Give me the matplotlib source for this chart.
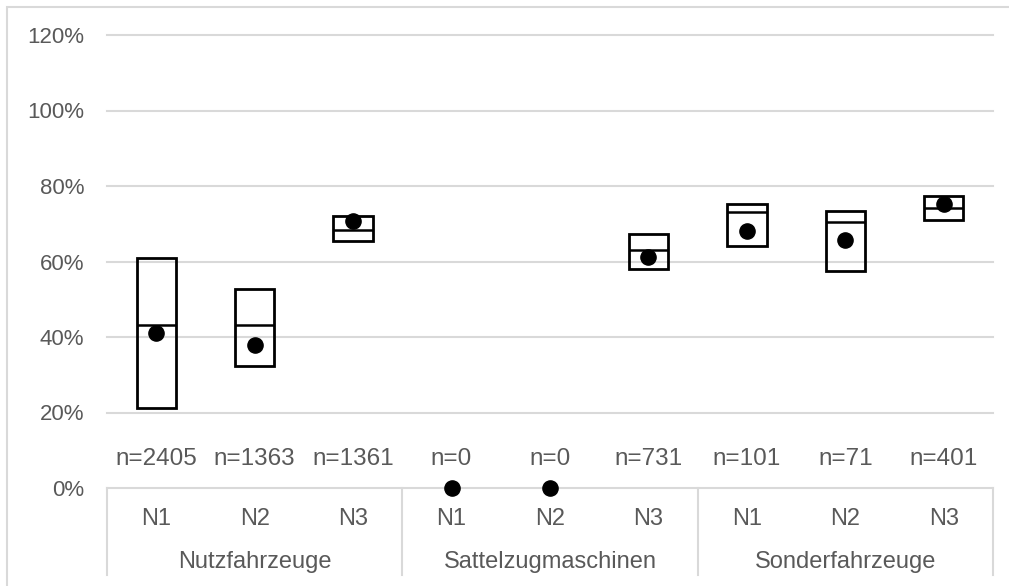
import numpy as np
import matplotlib.pyplot as plt
from matplotlib.patches import Rectangle
from matplotlib.transforms import blended_transform_factory

plt.rcParams['font.family'] = ['Liberation Sans', 'DejaVu Sans']

# Data
groups = ["Nutzfahrzeuge", "Sattelzugmaschinen", "Sonderfahrzeuge"]
classes = ["N1", "N2", "N3", "N1", "N2", "N3", "N1", "N2", "N3"]
n_counts = ["n=2405", "n=1363", "n=1361", "n=0", "n=0", "n=731", "n=101", "n=71", "n=401"]
box_low = [0.213, 0.322, 0.653, np.nan, np.nan, 0.581, 0.642, 0.576, 0.710]
box_high = [0.610, 0.528, 0.721, np.nan, np.nan, 0.674, 0.753, 0.734, 0.773]
median = [0.432, 0.432, 0.683, np.nan, np.nan, 0.631, 0.730, 0.705, 0.742]
mean = [0.411, 0.379, 0.706, 0.0, 0.0, 0.611, 0.680, 0.656, 0.751]

W, H = 1009, 586
AX_TOP, AX_BOT = 35, 488
fig = plt.figure(figsize=(W / 100, H / 100), dpi=100)
ax = fig.add_axes([107 / W, 1 - AX_BOT / H, (993 - 107) / W, (AX_BOT - AX_TOP) / H])


def below(ypix):
    """Axes-fraction y for a pixel row beneath the plot area."""
    return -(ypix - AX_BOT) / (AX_BOT - AX_TOP)


grid_c = "#d9d9d9"
text_c = "#595959"
x = np.arange(len(classes))

# Gridlines
ax.set_ylim(0, 1.2)
ax.set_xlim(-0.5, len(classes) - 0.5)
yt = np.arange(0, 1.21, 0.2)
for y in yt:
    ax.axhline(y, color=grid_c, lw=1.5, zorder=0, clip_on=False)
ax.set_yticks(yt)
ax.set_yticklabels([f"{int(round(v * 100))}%" for v in yt], color=text_c, fontsize=16)
ax.tick_params(axis="y", length=0, pad=16.5)
ax.set_xticks([])
for s in ax.spines.values():
    s.set_visible(False)

# Boxes (low..high) with median line
lo = np.array(box_low)
hi = np.array(box_high)
has_box = ~np.isnan(lo)
bw = 0.4
ax.bar(x[has_box], (hi - lo)[has_box], bottom=lo[has_box], width=bw,
       fill=False, edgecolor="black", linewidth=2, zorder=3)
med = np.array(median)
ax.hlines(med[has_box], x[has_box] - bw / 2, x[has_box] + bw / 2,
          color="black", linewidth=1.8, zorder=3)

# Mean markers
ax.scatter(x, mean, s=120, color="black", zorder=4, clip_on=False)

tr = blended_transform_factory(ax.transData, ax.transAxes)

# Sample sizes
for xi, t in zip(x, n_counts):
    ax.text(xi, below(465), t, ha="center", va="baseline", fontsize=17.5,
            color=text_c, transform=tr)

# Two-level category axis
for xs in [-0.5, 2.5, 5.5, 8.5]:
    ax.plot([xs, xs], [0, below(575)], color=grid_c, lw=1.5, transform=tr, clip_on=False)
for xi, c in zip(x, classes):
    ax.text(xi, below(525), c, ha="center", va="baseline", fontsize=17,
            color=text_c, transform=tr)
for gi, g in enumerate(groups):
    ax.text(gi * 3 + 1, below(568), g, ha="center", va="baseline", fontsize=17,
            color=text_c, transform=tr)

# Chart area border
fig.add_artist(Rectangle((7 / W, -0.1), 1.2, 1 - 7 / H + 0.1, transform=fig.transFigure,
                         fill=False, edgecolor=grid_c, lw=1.5))

fig.savefig("out.png", dpi=100)
